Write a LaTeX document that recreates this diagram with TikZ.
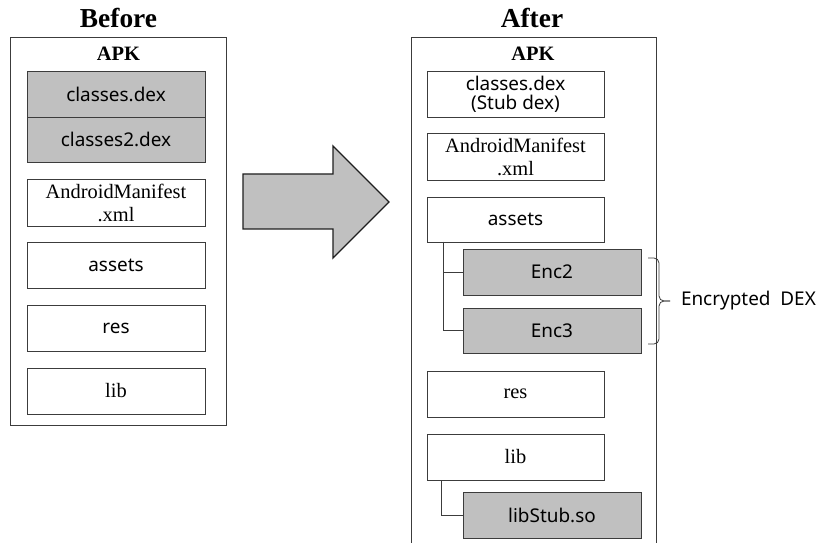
\documentclass[tikz,border=0pt]{standalone}
\usepackage{fontspec}
\setmainfont{Liberation Serif}
\newfontfamily\sansf{Noto Sans}
\definecolor{boxgray}{HTML}{C0C0C0}
\definecolor{linegray}{HTML}{3C3C3C}
\begin{document}
\begin{tikzpicture}[x=1bp,y=-1bp,
  every node/.style={inner sep=0pt,outer sep=0pt},
  filebox/.style={draw=linegray,line width=0.9bp,minimum width=178bp,minimum height=46bp,align=center,fill=white},
  encbox/.style={filebox,fill=boxgray},
  sanstxt/.style={font=\sansf\fontsize{19}{19}\selectfont},
  seriftxt/.style={font=\fontsize{20.5}{23}\selectfont},
  titletxt/.style={font=\bfseries\fontsize{27.5}{30}\selectfont,anchor=base},
  apktxt/.style={font=\bfseries\fontsize{20.5}{23}\selectfont,anchor=base},
  framebox/.style={draw=linegray,line width=1bp},
  tree/.style={draw=linegray,line width=0.9bp}]
\useasboundingbox (0,0) rectangle (823,543);
\clip (0,0) rectangle (823,543);
\fill[white] (0,0) rectangle (823,543);
% titles
\node[titletxt] (tb) at (118.5,28) {Before};
\node[titletxt] (ta) at (532,28) {After};
% frames
\node[framebox,minimum width=215bp,minimum height=387bp] (before) at (118.5,231.5) {};
\node[framebox,minimum width=245bp,minimum height=532bp] (after) at (533.5,304) {};
\node[apktxt] (apkb) at (118.5,61) {APK};
\node[apktxt] (apka) at (533,61) {APK};
% Before boxes
\node[encbox,sanstxt,minimum height=46bp] (bc1) at (116,94) {classes.dex};
\node[encbox,sanstxt,minimum height=45bp] (bc2) at (116,139.5) {classes2.dex};
\node[filebox,seriftxt,minimum height=47bp] (bman) at (116,202.5) {AndroidManifest\\.xml};
\node[filebox,sanstxt] (bas) at (116,265) {assets};
\node[filebox,sanstxt] (bres) at (116,328) {res};
\node[filebox,seriftxt] (blib) at (116,391) {lib};
% arrow
\draw[fill=boxgray,draw=black!88,line width=1.3bp,line join=miter]
  (243,174) -- (333,174) -- (333,146) -- (389,202) -- (333,258) -- (333,229) -- (243,229) -- cycle;
% After boxes
\node[filebox,sanstxt,minimum width=177bp] (ac) at (515.5,94) {classes.dex\\(Stub dex)};
\node[filebox,seriftxt,minimum width=177bp,minimum height=47bp] (aman) at (515.5,156.5) {AndroidManifest\\.xml};
\node[filebox,sanstxt,minimum width=177bp,minimum height=45bp] (aas) at (515.5,219.5) {assets};
\node[encbox,sanstxt] (enc2) at (552,272) {Enc2};
\node[encbox,sanstxt,minimum height=45bp] (enc3) at (552,330.5) {Enc3};
\node[filebox,seriftxt,minimum width=177bp] (ares) at (515.5,394) {res};
\node[filebox,seriftxt,minimum width=177bp] (alib) at (515.5,457) {lib};
\node[encbox,sanstxt] (stub) at (552,515) {libStub.so};
% tree connectors
\draw[tree] ([xshift=16bp]aas.south west) |- (enc3.west);
\draw[tree] ([xshift=16bp]aas.south west) |- (enc2.west);
\draw[tree] ([xshift=14bp]alib.south west) |- (stub.west);
% brace
\coordinate (bt) at (648,258);
\coordinate (bb) at (648,344);
\coordinate (bm) at (670,301);
\draw[tree,line width=0.8bp,rounded corners=5bp] (bt) -- (659,258) -- (659,301) -- (bm);
\draw[tree,line width=0.8bp,rounded corners=5bp] (bb) -- (659,344) -- (659,301) -- (bm);
\node[sanstxt,anchor=west] (encl) at (681,301) {Encrypted\ \ DEX};
\end{tikzpicture}
\end{document}
